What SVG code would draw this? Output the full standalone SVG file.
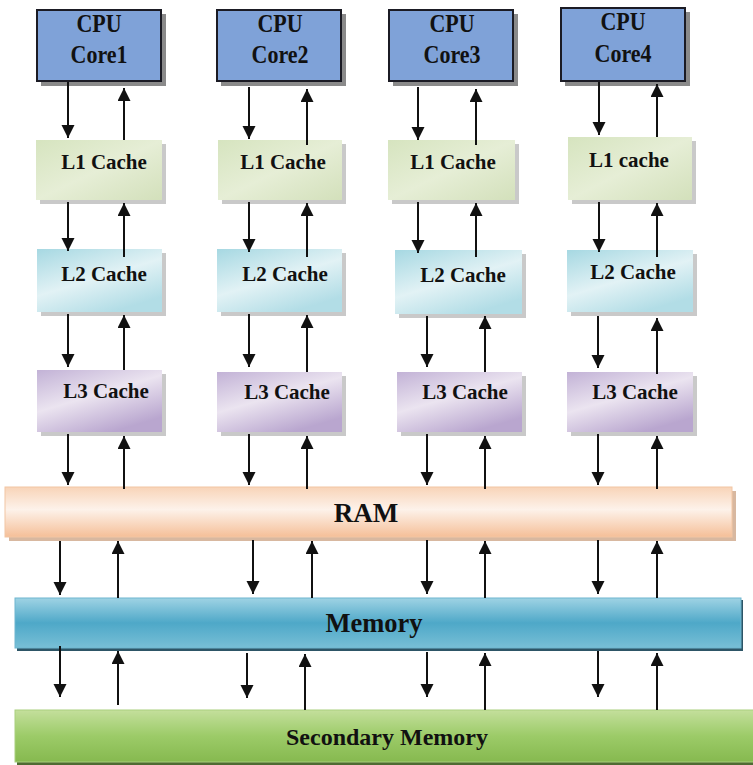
<svg xmlns="http://www.w3.org/2000/svg" width="753" height="765" viewBox="0 0 753 765">
<style>
  .cpu { fill: #7fa2d8; stroke: #1b1b24; stroke-width: 2; }
  .cpush { fill: #8a8a8a; }
  .sh { fill: #c9c9c9; }
  .l1 { fill: url(#gL1); }
  .l2 { fill: url(#gL2); }
  .l3 { fill: url(#gL3); }
  .ct { font-size: 22px; }
  .conn line { stroke: #111; stroke-width: 2; marker-end: url(#ah); }
</style>
<defs>
  <marker id="ah" markerUnits="userSpaceOnUse" markerWidth="14" markerHeight="14" refX="13" refY="6.5" orient="auto">
    <path d="M0,0 L13,6.5 L0,13 z" fill="#111"/>
  </marker>
  <linearGradient id="gL1" x1="0" y1="0" x2="1" y2="1">
    <stop offset="0" stop-color="#d6e4bf"/>
    <stop offset="0.5" stop-color="#e6eed6"/>
    <stop offset="1" stop-color="#d3e0bb"/>
  </linearGradient>
  <linearGradient id="gL2" x1="0" y1="0" x2="0.6" y2="1">
    <stop offset="0" stop-color="#a6d8e2"/>
    <stop offset="0.55" stop-color="#e2f2f5"/>
    <stop offset="1" stop-color="#b2dde6"/>
  </linearGradient>
  <linearGradient id="gL3" x1="0" y1="0" x2="0.6" y2="1">
    <stop offset="0" stop-color="#c2b2d6"/>
    <stop offset="0.5" stop-color="#ebe4f0"/>
    <stop offset="1" stop-color="#b9a6cf"/>
  </linearGradient>
  <linearGradient id="gRAM" x1="0" y1="0" x2="0" y2="1">
    <stop offset="0" stop-color="#f8d4b8"/>
    <stop offset="0.45" stop-color="#fdf2ea"/>
    <stop offset="1" stop-color="#f5bf98"/>
  </linearGradient>
  <linearGradient id="gMem" x1="0" y1="0" x2="0" y2="1">
    <stop offset="0" stop-color="#9fd3e4"/>
    <stop offset="0.5" stop-color="#4ea8c8"/>
    <stop offset="1" stop-color="#78bfd6"/>
  </linearGradient>
  <linearGradient id="gSec" x1="0" y1="0" x2="0" y2="1">
    <stop offset="0" stop-color="#c4df9c"/>
    <stop offset="0.5" stop-color="#9ccb68"/>
    <stop offset="1" stop-color="#86b94f"/>
  </linearGradient>
</defs>
<rect width="753" height="765" fill="#ffffff"/>

<g font-family="Liberation Serif, Times New Roman, serif" font-weight="bold" fill="#111" text-anchor="middle">
<!-- CPU cores -->
<g id="core1">
  <rect class="cpush" x="41" y="14" width="125" height="72"/>
  <rect class="cpu" x="37" y="10" width="124" height="71"/>
  <text class="ct" transform="translate(99,32) scale(1,1.12)">CPU</text>
  <text class="ct" transform="translate(99,63) scale(1,1.12)">Core1</text>
</g>
<g id="core2">
  <rect class="cpush" x="221" y="14" width="125" height="72"/>
  <rect class="cpu" x="217" y="10" width="124" height="71"/>
  <text class="ct" transform="translate(280,32) scale(1,1.12)">CPU</text>
  <text class="ct" transform="translate(280,63) scale(1,1.12)">Core2</text>
</g>
<g id="core3">
  <rect class="cpush" x="393" y="14" width="125" height="72"/>
  <rect class="cpu" x="389" y="10" width="124" height="71"/>
  <text class="ct" transform="translate(452,32) scale(1,1.12)">CPU</text>
  <text class="ct" transform="translate(452,63) scale(1,1.12)">Core3</text>
</g>
<g id="core4">
  <rect class="cpush" x="565" y="12" width="125" height="74"/>
  <rect class="cpu" x="561" y="8" width="124" height="73"/>
  <text class="ct" transform="translate(623,30) scale(1,1.12)">CPU</text>
  <text class="ct" transform="translate(623,62) scale(1,1.12)">Core4</text>
</g>

<!-- L1 -->
<g id="l1-1"><rect class="sh" x="40" y="144" width="126" height="60"/><rect class="l1" x="36" y="140" width="126" height="60"/>
  <text x="104" y="169" font-size="21">L1 Cache</text></g>
<g id="l1-2"><rect class="sh" x="222" y="144" width="124" height="60"/><rect class="l1" x="218" y="140" width="124" height="60"/>
  <text x="283" y="169" font-size="21">L1 Cache</text></g>
<g id="l1-3"><rect class="sh" x="392" y="144" width="127" height="60"/><rect class="l1" x="388" y="140" width="127" height="60"/>
  <text x="453" y="169" font-size="21">L1 Cache</text></g>
<g id="l1-4"><rect class="sh" x="572" y="141" width="124" height="63"/><rect class="l1" x="568" y="137" width="124" height="63"/>
  <text x="629" y="167" font-size="21">L1 cache</text></g>

<!-- L2 -->
<g id="l2-1"><rect class="sh" x="41" y="253" width="125" height="63"/><rect class="l2" x="37" y="249" width="125" height="63"/>
  <text x="104" y="281" font-size="21">L2 Cache</text></g>
<g id="l2-2"><rect class="sh" x="221" y="253" width="125" height="63"/><rect class="l2" x="217" y="249" width="125" height="63"/>
  <text x="285" y="281" font-size="21">L2 Cache</text></g>
<g id="l2-3"><rect class="sh" x="399" y="254" width="127" height="64"/><rect class="l2" x="395" y="250" width="127" height="64"/>
  <text x="463" y="282" font-size="21">L2 Cache</text></g>
<g id="l2-4"><rect class="sh" x="571" y="254" width="126" height="62"/><rect class="l2" x="567" y="250" width="126" height="62"/>
  <text x="633" y="279" font-size="21">L2 Cache</text></g>

<!-- L3 -->
<g id="l3-1"><rect class="sh" x="41" y="374" width="125" height="62"/><rect class="l3" x="37" y="370" width="125" height="62"/>
  <text x="106" y="398" font-size="21">L3 Cache</text></g>
<g id="l3-2"><rect class="sh" x="221" y="376" width="125" height="60"/><rect class="l3" x="217" y="372" width="125" height="60"/>
  <text x="287" y="399" font-size="21">L3 Cache</text></g>
<g id="l3-3"><rect class="sh" x="401" y="376" width="125" height="60"/><rect class="l3" x="397" y="372" width="125" height="60"/>
  <text x="465" y="399" font-size="21">L3 Cache</text></g>
<g id="l3-4"><rect class="sh" x="571" y="376" width="126" height="60"/><rect class="l3" x="567" y="372" width="126" height="60"/>
  <text x="635" y="399" font-size="21">L3 Cache</text></g>

<!-- RAM -->
<g id="ram">
  <rect x="9" y="491" width="727" height="50" fill="#d8b8a0"/>
  <rect x="5" y="487" width="727" height="50" fill="url(#gRAM)" stroke="#f2c6a4" stroke-width="1"/>
  <text x="366" y="522" font-size="27">RAM</text>
</g>
<!-- Memory -->
<g id="memory">
  <rect x="17" y="600" width="726" height="51" fill="#2d5566"/>
  <rect x="15" y="598" width="726" height="50" fill="url(#gMem)" stroke="#6fb6cf" stroke-width="1"/>
  <text x="374" y="632" font-size="26.5">Memory</text>
</g>
<!-- Secondary -->
<g id="secondary">
  <rect x="17" y="712" width="740" height="53" fill="#4f6b33"/>
  <rect x="15" y="710" width="740" height="52" fill="url(#gSec)" stroke="#a9cf7f" stroke-width="1"/>
  <text x="387" y="745" font-size="24">Secondary Memory</text>
</g>
</g>

<g id="connectors" class="conn">
  <line x1="68" y1="82" x2="68" y2="138"/>
  <line x1="124" y1="140" x2="124" y2="88"/>
  <line x1="249" y1="87" x2="249" y2="139"/>
  <line x1="307" y1="145" x2="307" y2="89"/>
  <line x1="418" y1="87" x2="418" y2="140"/>
  <line x1="476" y1="145" x2="476" y2="89"/>
  <line x1="599" y1="82" x2="599" y2="135"/>
  <line x1="657" y1="137" x2="657" y2="84"/>
  <line x1="68" y1="202" x2="68" y2="251"/>
  <line x1="124" y1="257" x2="124" y2="203"/>
  <line x1="249" y1="202" x2="249" y2="252"/>
  <line x1="307" y1="257" x2="307" y2="203"/>
  <line x1="418" y1="202" x2="418" y2="253"/>
  <line x1="476" y1="257" x2="476" y2="203"/>
  <line x1="599" y1="202" x2="599" y2="252"/>
  <line x1="657" y1="257" x2="657" y2="203"/>
  <line x1="68" y1="314" x2="68" y2="367"/>
  <line x1="124" y1="370" x2="124" y2="315"/>
  <line x1="249" y1="314" x2="249" y2="367"/>
  <line x1="307" y1="372" x2="307" y2="315"/>
  <line x1="427" y1="316" x2="427" y2="367"/>
  <line x1="485" y1="372" x2="485" y2="316"/>
  <line x1="598" y1="316" x2="598" y2="368"/>
  <line x1="657" y1="374" x2="657" y2="318"/>
  <line x1="68" y1="434" x2="68" y2="485"/>
  <line x1="124" y1="489" x2="124" y2="436"/>
  <line x1="249" y1="434" x2="249" y2="485"/>
  <line x1="307" y1="489" x2="307" y2="436"/>
  <line x1="427" y1="434" x2="427" y2="485"/>
  <line x1="485" y1="489" x2="485" y2="436"/>
  <line x1="598" y1="434" x2="598" y2="485"/>
  <line x1="657" y1="489" x2="657" y2="436"/>
  <line x1="60" y1="541" x2="60" y2="595"/>
  <line x1="118" y1="598" x2="118" y2="541"/>
  <line x1="253" y1="540" x2="253" y2="594"/>
  <line x1="312" y1="598" x2="312" y2="541"/>
  <line x1="427" y1="540" x2="427" y2="594"/>
  <line x1="485" y1="598" x2="485" y2="541"/>
  <line x1="598" y1="540" x2="598" y2="594"/>
  <line x1="657" y1="598" x2="657" y2="541"/>
  <line x1="60" y1="646" x2="60" y2="697"/>
  <line x1="118" y1="705" x2="118" y2="651"/>
  <line x1="247" y1="653" x2="247" y2="698"/>
  <line x1="305" y1="710" x2="305" y2="654"/>
  <line x1="427" y1="652" x2="427" y2="697"/>
  <line x1="485" y1="710" x2="485" y2="653"/>
  <line x1="598" y1="651" x2="598" y2="697"/>
  <line x1="657" y1="710" x2="657" y2="653"/>
</g>
</svg>
